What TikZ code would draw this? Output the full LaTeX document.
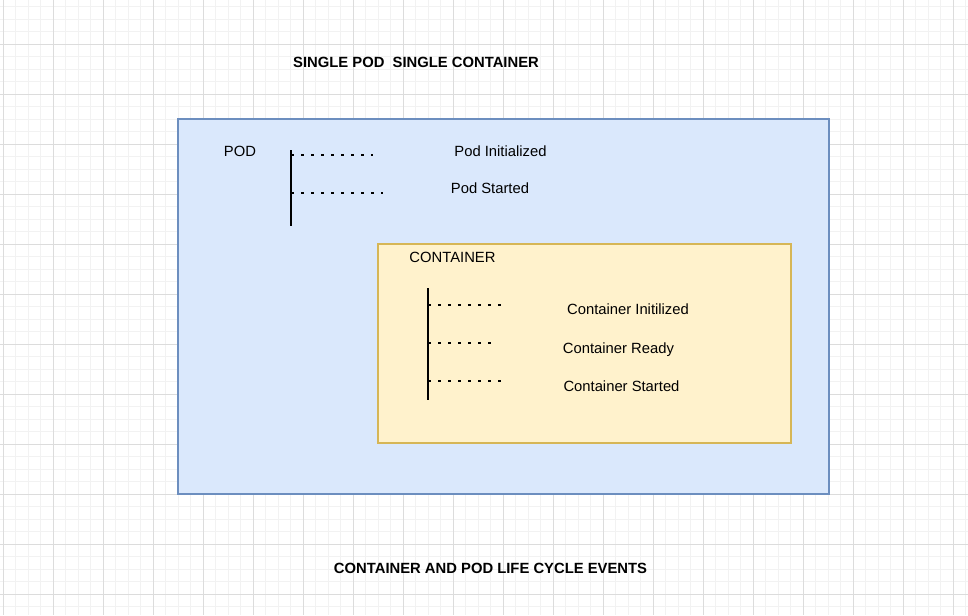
\documentclass[tikz,border=0pt]{standalone}
\usepackage{fontspec}
\setmainfont{Liberation Sans}
\usepackage{tikz}
\usetikzlibrary{positioning}

\definecolor{podfill}{HTML}{DAE8FC}
\definecolor{podline}{HTML}{6C8EBF}
\definecolor{ctrfill}{HTML}{FFF2CC}
\definecolor{ctrline}{HTML}{D6B656}
\definecolor{minorgray}{HTML}{F2F2F2}
\definecolor{majorgray}{HTML}{DCDCDC}

\begin{document}
\begin{tikzpicture}[
    x=0.75pt, y=-0.75pt,
    minorgrid/.style={draw=minorgray, line width=0.75pt},
    majorgrid/.style={draw=majorgray, line width=0.75pt},
    podbox/.style={draw=podline, fill=podfill, line width=0.8pt},
    ctrbox/.style={draw=ctrline, fill=ctrfill, line width=0.8pt},
    timeline/.style={draw=black, line width=1.1pt},
    event/.style={draw=black, line width=2pt,
                  dash pattern=on 2pt off 5.5pt},
    lbl/.style={font=\fontsize{11.1}{13}\selectfont, inner sep=0pt,
                anchor=base},
    heading/.style={font=\fontsize{11.1}{13}\selectfont\bfseries,
                    inner sep=0pt, anchor=base}
]
\useasboundingbox (0,0) rectangle (968,615);
\fill[white] (0,0) rectangle (968,615);

%---------------- Grid ----------------
\foreach \i in {0,...,77}
    \draw[minorgrid] ({3.3+12.5*\i},0) -- ({3.3+12.5*\i},615);
\foreach \j in {0,...,48}
    \draw[minorgrid] (0,{6.8+12.5*\j}) -- (968,{6.8+12.5*\j});
\foreach \i in {0,...,19}
    \draw[majorgrid] ({3.3+50*\i},0) -- ({3.3+50*\i},615);
\foreach \j in {0,...,11}
    \draw[majorgrid] (0,{44.3+50*\j}) -- (968,{44.3+50*\j});

%---------------- Titles ----------------
\node[heading] (title) at (416,67.5) {SINGLE POD\ \ SINGLE CONTAINER};
\node[heading] (caption) at (490.5,573.5) {CONTAINER AND POD LIFE CYCLE EVENTS};

%---------------- Pod ----------------
\path[podbox] (178,119) rectangle (829,494);
\node[lbl] (podlbl) at (240,156) {POD};

\coordinate (podtop) at (291,150);
\coordinate (podbot) at (291,226);
\draw[timeline] (podtop) -- (podbot);

\coordinate (podinit) at (291,155);
\coordinate (podinitend) at (373,155);
\coordinate (podstart) at (291,193);
\coordinate (podstartend) at (383,193);
\draw[event] (podinit) -- (podinitend);
\draw[event] (podstart) -- (podstartend);

\node[lbl] (podinitlbl) at (500.5,156) {Pod Initialized};
\node[lbl] (podstartlbl) at (490,193) {Pod Started};

%---------------- Container ----------------
\path[ctrbox] (378,244) rectangle (791,443);
\node[lbl] (ctrlbl) at (452.5,262) {CONTAINER};

\coordinate (ctrtop) at (428,288);
\coordinate (ctrbot) at (428,400);
\draw[timeline] (ctrtop) -- (ctrbot);

\coordinate (ctrinit) at (428,305);
\coordinate (ctrinitend) at (501,305);
\coordinate (ctrready) at (428,343);
\coordinate (ctrreadyend) at (491,343);
\coordinate (ctrstart) at (428,381);
\coordinate (ctrstartend) at (501,381);
\draw[event] (ctrinit) -- (ctrinitend);
\draw[event] (ctrready) -- (ctrreadyend);
\draw[event] (ctrstart) -- (ctrstartend);

\node[lbl] (ctrinitlbl) at (628,314) {Container Initilized};
\node[lbl] (ctrreadylbl) at (618.5,353) {Container Ready};
\node[lbl] (ctrstartlbl) at (621.5,391.5) {Container Started};

\end{tikzpicture}
\end{document}
